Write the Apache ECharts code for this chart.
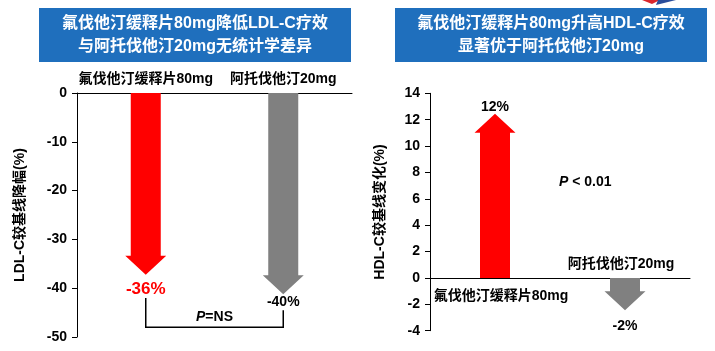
<!DOCTYPE html>
<html>
<head>
<meta charset="utf-8">
<script src="https://cdn.jsdelivr.net/npm/echarts@6/dist/echarts.min.js"></script>
<style>
  html, body { margin: 0; padding: 0; background: #fff; }
  #main { width: 715px; height: 351px; }
</style>
</head>
<body>
<div id="main"></div>
<script>
// 数据
const ldlCategories = ['氟伐他汀缓释片80mg', '阿托伐他汀20mg'];
const ldlValues = [-36, -40];
const ldlLabels = ['-36%', '-40%'];
const hdlCategories = ['氟伐他汀缓释片80mg', '阿托伐他汀20mg'];
const hdlValues = [12, -2];
const hdlLabels = ['12%', '-2%'];
const ldlTicks = { min: -50, max: 0, interval: 10 };
const hdlTicks = { min: -4, max: 14, interval: 2 };

const FONT = '"Liberation Sans", Arial, "Noto Sans CJK SC", sans-serif';
const RED = '#ff0000';
const GREY = '#808080';
const BLUE = '#1f6fbd';

// 标签样式（每个箭头的文字大小、颜色、偏移）
const ldlLabelStyle = [
    { color: RED, fontSize: 17, dy: 21 },
    { color: '#000', fontSize: 14, dy: 14 },
];
const hdlLabelStyle = [
    { color: '#000', fontSize: 14, dy: -13 },
    { color: '#000', fontSize: 14, dy: 22 },
];

// 画箭头
const makeArrow = (colors, labels, labelStyle) => (params, api) => {
    const idx = api.value(0);
    const val = api.value(1);
    const base = api.coord([idx, 0]);
    const end = api.coord([idx, val]);
    const cx = base[0];
    const dir = val < 0 ? 1 : -1;
    const tip = end[1] + dir * 6;
    const neck = tip - dir * 19;
    const sw = 15;
    const hw = 20.5;
    const ls = labelStyle[params.dataIndex];
    return {
        type: 'group',
        children: [
            {
                type: 'polygon',
                shape: {
                    points: [
                        [cx - sw, base[1]], [cx + sw, base[1]], [cx + sw, neck],
                        [cx + hw, neck], [cx, tip], [cx - hw, neck], [cx - sw, neck],
                    ],
                },
                style: { fill: colors[params.dataIndex] },
            },
            {
                type: 'text',
                x: cx,
                y: end[1] + ls.dy,
                style: {
                    text: labels[params.dataIndex],
                    fill: ls.color,
                    font: 'bold ' + ls.fontSize + 'px ' + FONT,
                    align: 'center',
                    verticalAlign: 'middle',
                },
            },
        ],
    };
};

const yAxisBase = {
    type: 'value',
    axisLine: { show: true, lineStyle: { color: '#000', width: 1 } },
    axisTick: { show: true, length: 5, lineStyle: { color: '#000' } },
    splitLine: { show: false },
    axisLabel: { color: '#000', fontSize: 14, fontWeight: 'bold', fontFamily: FONT, margin: 10 },
    nameLocation: 'middle',
    nameRotate: 90,
    nameTextStyle: { color: '#000', fontSize: 14, fontWeight: 'bold', fontFamily: FONT },
};

const titleBox = (left, lines) => ({
    type: 'group',
    left: left,
    top: 8,
    children: [
        { type: 'rect', shape: { x: 0, y: 0, width: 312, height: 54 }, style: { fill: BLUE } },
        {
            type: 'text',
            x: 156,
            y: 27,
            style: {
                text: lines.join('\n'),
                fill: '#fff',
                font: 'bold 16px ' + FONT,
                lineHeight: 23,
                align: 'center',
                verticalAlign: 'middle',
            },
        },
    ],
});

const chart = echarts.init(document.getElementById('main'));
const option = {
    animation: false,
    graphic: [
        titleBox(39, ['氟伐他汀缓释片80mg降低LDL-C疗效', '与阿托伐他汀20mg无统计学差异']),
        titleBox(395, ['氟伐他汀缓释片80mg升高HDL-C疗效', '显著优于阿托伐他汀20mg']),
        { type: 'polygon', shape: { points: [[642, 0], [660, 0], [652, 4]] }, style: { fill: '#d9262c' } },
        { type: 'polygon', shape: { points: [[658, 0], [676, 0], [656, 5]] }, style: { fill: '#2a4d9b' } },
    ],
    grid: [
        { left: 77, top: 93, width: 275, height: 244 },
        { left: 430, top: 93.3, width: 260, height: 237.4 },
    ],
    xAxis: [
        {
            gridIndex: 0,
            type: 'category',
            data: ldlCategories,
            position: 'top',
            axisLine: { lineStyle: { color: '#000' } },
            axisTick: { inside: true, length: 5, lineStyle: { color: '#000' } },
            axisLabel: {
                interval: 0, hideOverlap: false,
                color: '#000', fontSize: 14, fontWeight: 'bold', fontFamily: FONT, margin: 7,
            },
        },
        {
            gridIndex: 1,
            type: 'category',
            data: hdlCategories,
            axisLine: { onZero: true, lineStyle: { color: '#000' } },
            axisTick: { length: 5, lineStyle: { color: '#000' } },
            axisLabel: { show: false },
        },
    ],
    yAxis: [
        Object.assign({}, yAxisBase, {
            gridIndex: 0,
            min: ldlTicks.min, max: ldlTicks.max, interval: ldlTicks.interval,
            name: 'LDL-C较基线降幅(%)',
            nameGap: 50,
        }),
        Object.assign({}, yAxisBase, {
            gridIndex: 1,
            min: hdlTicks.min, max: hdlTicks.max, interval: hdlTicks.interval,
            name: 'HDL-C较基线变化(%)',
            nameGap: 43,
        }),
    ],
    series: [
        {
            type: 'custom',
            xAxisIndex: 0,
            yAxisIndex: 0,
            data: ldlValues.map((v, i) => [i, v]),
            renderItem: makeArrow([RED, GREY], ldlLabels, ldlLabelStyle),
        },
        {
            type: 'custom',
            xAxisIndex: 1,
            yAxisIndex: 1,
            data: hdlValues.map((v, i) => [i, v]),
            renderItem: makeArrow([RED, GREY], hdlLabels, hdlLabelStyle),
        },
        {
            // P=NS 括号
            type: 'custom',
            xAxisIndex: 0,
            yAxisIndex: 0,
            data: [[0, 0]],
            renderItem: (params, api) => {
                const a = api.coord([0, -42]);
                const b = api.coord([0, -48]);
                const c = api.coord([1, -48]);
                const d = api.coord([1, -44.5]);
                const t = api.coord([0, -46]);
                return {
                    type: 'group',
                    children: [
                        {
                            type: 'polyline',
                            shape: { points: [a, b, c, d] },
                            style: { stroke: '#000', lineWidth: 1.5, fill: null },
                        },
                        {
                            type: 'text',
                            x: (b[0] + c[0]) / 2,
                            y: t[1],
                            style: {
                                text: '{i|P}=NS',
                                font: 'bold 14px ' + FONT,
                                fill: '#000',
                                align: 'center',
                                verticalAlign: 'middle',
                                rich: { i: { fontStyle: 'italic', fontWeight: 'bold', fontSize: 14, fontFamily: FONT } },
                            },
                        },
                    ],
                };
            },
        },
        {
            // 右图类别名称与 P 值
            type: 'custom',
            xAxisIndex: 1,
            yAxisIndex: 1,
            data: [[0, 0]],
            renderItem: (params, api) => {
                const c0 = api.coord([0, 0]);
                const c1 = api.coord([1, 0]);
                const p = api.coord([1, 7.3]);
                const txt = (x, y, s, extra) => ({
                    type: 'text',
                    x: x,
                    y: y,
                    style: Object.assign({
                        text: s,
                        fill: '#000',
                        font: 'bold 14px ' + FONT,
                        align: 'center',
                        verticalAlign: 'middle',
                    }, extra || {}),
                });
                return {
                    type: 'group',
                    children: [
                        txt(c0[0] + 6, c0[1] + 18, hdlCategories[0]),
                        txt(c1[0] - 4, c1[1] - 14, hdlCategories[1]),
                        txt((c0[0] + c1[0]) / 2 - 1, p[1], '{i|P} < 0.01', {
                            align: 'left',
                            rich: { i: { fontStyle: 'italic', fontWeight: 'bold', fontSize: 14, fontFamily: FONT } },
                        }),
                    ],
                };
            },
        },
    ],
};
chart.setOption(option);
</script>
</body>
</html>
